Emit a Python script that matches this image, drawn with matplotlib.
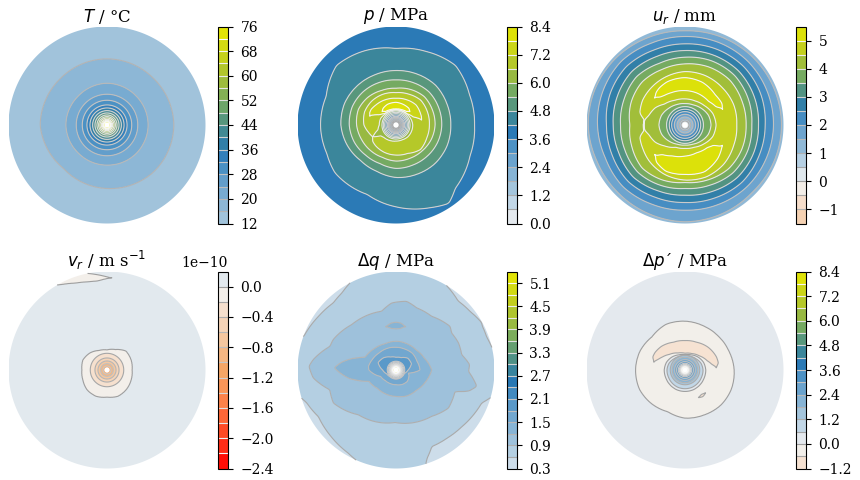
import numpy as np
import matplotlib
matplotlib.use("Agg")
import matplotlib.pyplot as plt
from matplotlib.colors import LinearSegmentedColormap, Normalize

plt.rcParams['font.family'] = 'DejaVu Serif'

R_MAX = 295.0
R_HOLE = 8.0
RAYS = [0, 22.5, 45, 67.5, 90, 112.5, 135, 157.5, 180, 202.5, 225, 247.5, 270, 292.5, 315, 337.5]
RAYS8 = [0, 45, 90, 135, 180, 225, 270, 315]

# ---- T ----
T_levels = np.arange(12, 77, 4)
T_ticks = np.arange(12, 77, 8)
T_inner_vals = [75, 72, 68, 64, 60, 56, 52, 48, 44, 40, 36, 32, 28, 24]
T_inner_r = [8.5, 9.5, 11.5, 14, 17, 21, 25, 30, 36, 43, 51, 60, 74, 92]
T_20 = [123, 123, 125, 122, 123, 120, 120, 122]
T_16 = [200, 197, 198, 197, 200, 184, 190, 198]

# ---- p ----
p_levels = np.arange(0, 8.41, 0.6)
p_ticks = np.arange(0, 8.41, 1.2)
p_inner_vals = [0.2, 0.6, 1.2, 1.8, 2.4, 3.0, 3.6, 4.2, 4.8, 5.4, 6.0]
p_inner_r = [8, 10, 13, 16, 20, 23, 26, 30, 34, 38, 42]
p_66_ang = [0, 22.5, 45, 67.5, 90, 112.5, 135, 157.5, 180, 195, 207, 215, 225, 247.5, 270, 292.5, 315, 337.5]
p_66up = [50, 48, 46, 45, 45, 45, 46, 50, 50, 56, 78, 56, 52, 50, 48, 48, 50, 50]
p_66dn = [100, 102, 105, 100, 97, 100, 102, 102, 96, 85, 78, 85, 87, 89, 90, 92, 104, 100]
p_72_ang = [12, 18, 25, 45, 67.5, 90, 112.5, 135, 148, 155, 160, 207]
p_72up = [78, 68, 57, 47, 46, 46, 46, 48, 58, 72, 83, 78]
p_72dn = [78, 80, 81, 85, 82, 80, 82, 85, 88, 87, 83, 78]
p_78_ang = [45, 52, 67.5, 90, 112.5, 128, 135]
p_78up = [58, 51, 49, 48, 49, 51, 58]
p_78dn = [58, 63, 65, 68, 67, 63, 58]
p_60dn = [117, 118, 120, 115, 110, 112, 118, 122, 118, 112, 108, 105, 108, 108, 110, 114]
p_54dn = [137, 138, 140, 137, 135, 137, 140, 142, 140, 135, 128, 125, 130, 130, 132, 135]
p_48dn = [164, 165, 168, 165, 163, 163, 165, 167, 165, 158, 150, 150, 157, 160, 164, 165]
p_42_ang = [0, 22.5, 45, 67.5, 90, 112.5, 135, 157.5, 180, 202.5, 218, 247.5, 270, 292.5, 304, 313, 337.5]
p_42dn = [235, 238, 252, 238, 229, 241, 252, 226, 226, 224, 232, 225, 245, 268, 283, 260, 240]

# ---- u_r ----
u_levels = np.arange(-1.5, 5.51, 0.5)
u_ticks = np.arange(-1, 6, 1)
u_inner_vals = [0.1, 0.5, 1.0, 1.5, 2.0, 2.5, 3.0, 3.5]
u_inner_r = [8, 12, 17, 24, 32, 40, 47, 55]
u_40up = [78, 76, 70, 65, 64, 66, 70, 76, 78, 75, 68, 62, 60, 62, 68, 75]
u_45_ang = [0, 22.5, 45, 67.5, 90, 112.5, 135, 150, 165, 173, 187, 195, 210, 225, 247.5, 270, 292.5, 315, 337.5]
u_45up = [93, 90, 82, 78, 78, 80, 88, 103, 112, 122, 122, 112, 103, 88, 72, 70, 72, 80, 90]
u_45dn = [155, 158, 158, 160, 160, 155, 150, 147, 140, 122, 122, 140, 145, 152, 160, 165, 168, 165, 158]
u_50_ang = [24, 30, 45, 67.5, 90, 112.5, 125, 132, 137, 226, 232, 247.5, 270, 292.5, 315, 325, 330]
u_50up = [122, 108, 100, 102, 103, 105, 108, 112, 122, 127, 112, 100, 93, 90, 95, 105, 128]
u_50dn = [122, 128, 128, 138, 142, 140, 135, 130, 122, 127, 140, 150, 148, 152, 140, 132, 128]
u_40dn = [183, 185, 190, 188, 183, 180, 182, 175, 165, 172, 182, 178, 172, 178, 185, 185]
u_35dn = [200, 205, 210, 208, 203, 200, 205, 198, 193, 195, 200, 195, 190, 195, 203, 203]
u_30dn = [220, 224, 228, 226, 223, 222, 226, 220, 215, 215, 220, 213, 210, 215, 222, 222]
u_25dn = [240, 245, 248, 246, 243, 243, 248, 243, 235, 236, 240, 234, 232, 236, 242, 240]
u_20dn = [265, 266, 268, 267, 265, 265, 270, 266, 262, 258, 262, 257, 255, 258, 262, 263]
u_15dn = [289, 288, 287, 285, 282, 284, 288, 290, 290, 285, 285, 287, 290, 288, 285, 288]

# ---- v_r (units of 1e-10) ----
v_levels = np.arange(-2.4, 0.21, 0.2)
v_ticks = np.arange(-2.4, 0.01, 0.4)
v_inner_vals = [-1.0, -0.8, -0.6, -0.4, -0.2]
v_inner_r = [12, 19, 27, 36, 50]
v_zero = [75, 78, 80, 66, 60, 63, 72, 78, 75, 78, 84, 85, 81, 85, 82, 78]
v_blob_ang = [0, 88, 96, 102, 110, 118, 121, 125]
v_blob_in = [305, 276, 268, 270, 277, 290, 297, 305]
v_blob_out = [305, 276, 287, 296, 305, 305, 305, 305]

# ---- delta q ----
q_levels = np.arange(0.3, 5.41, 0.3)
q_ticks = np.arange(0.3, 5.11, 0.6)
q_inner_vals = [5.2, 5.1, 4.8, 4.5, 4.2, 3.9, 3.6, 3.3, 3.0, 2.7, 2.4, 2.1]
q_inner_r = [8.5, 9, 10, 11, 12, 13.5, 15, 17, 19, 21, 23.5, 26]
q_18 = [36, 50, 50, 40, 38, 42, 52, 58, 40, 30, 27, 27, 27, 27, 27, 27]
q_15_ang = [0, 22.5, 45, 67.5, 90, 112.5, 135, 157.5, 172, 180, 202.5, 225, 247.5, 270, 292.5, 315, 337.5, 346]
q_15 = [72, 68, 70, 68, 68, 70, 72, 78, 83, 81, 50, 45, 44, 44, 47, 48, 42, 38]
q_12_ang = [0, 22.5, 45, 67.5, 90, 112.5, 135, 157.5, 172, 178, 190, 202.5, 225, 247.5, 270, 292.5, 315, 337.5]
q_12 = [107, 92, 85, 85, 86, 85, 91, 100, 165, 185, 143, 88, 78, 78, 79, 84, 86, 95]
q_blob_ang = [0, 78, 84, 90, 96, 103]
q_blob_in = [133, 133, 125, 123, 125, 133]
q_blob_out = [133, 133, 141, 143, 141, 133]
q_09_ang = [4.2, 13.1, 23.4, 33.6, 39, 56.4, 71.6, 81.2, 93.7, 103.7, 134.4, 154.2, 160.3, 172.9, 177.6, 185.5, 196.6, 207.8, 229.9, 269, 307.6, 324, 340.1, 343.6, 348.6, 358.9]
q_09 = [221, 202, 204, 200, 208, 193, 196, 208, 201, 181, 190, 209, 210, 250, 261, 249, 207, 212, 175, 157, 175, 194, 188, 226, 247, 217]
q_06_ang = [8, 12, 20, 27, 29, 38, 48, 60, 65, 110, 115, 125, 133, 145, 160, 170, 188, 200, 211, 225, 240, 250, 285, 289, 295, 307, 319, 330, 339, 345, 350]
q_06 = [320, 296, 289, 290, 293, 283, 278, 296, 320, 320, 300, 282, 275, 282, 294, 320, 320, 285, 271, 278, 287, 300, 320, 282, 253, 255, 260, 268, 275, 300, 320]

# ---- delta p' ----
d_levels = np.arange(-1.2, 8.41, 0.6)
d_ticks = np.arange(-1.2, 8.41, 1.2)
d_inner_vals = [8.1, 7.8, 7.2, 6.6, 6.0, 5.4, 4.8, 4.2, 3.6, 3.0, 2.4, 1.8, 1.2]
d_inner_r = [7, 8.5, 9.5, 10.5, 11.5, 13, 14.5, 17, 20, 25, 31, 38, 44]
d_06 = [54, 52, 47, 44, 42, 44, 47, 52, 54, 54, 55, 56, 56, 56, 55, 54]
d_00 = [62, 60, 55, 49, 46, 49, 55, 60, 62, 62, 63, 64, 64, 64, 63, 62]
d_cres_ang = [5, 12, 22.5, 45, 67.5, 90, 112.5, 135, 150, 158, 165, 296, 304, 312]
d_cres_in = [94, 82, 72, 60, 53, 50, 55, 66, 78, 86, 96, 92, 88, 92]
d_cres_out = [94, 102, 102, 97, 90, 88, 90, 100, 104, 104, 96, 92, 96, 92]
d_outer = [147, 143, 142, 143, 146, 148, 140, 146, 148, 148, 142, 135, 144, 146, 150, 150]


def build_field(knots, smooth=2.0):
    """knots: (value, radius) with radius a number, (angles, radii) or None (midway)."""
    theta = np.arange(0, 360.5, 0.5)
    r = np.linspace(R_HOLE, R_MAX, 450)
    rows, vals = [], []
    for v, spec in knots:
        vals.append(v)
        if spec is None:
            rows.append(None)
        elif np.isscalar(spec):
            rows.append(np.full(theta.size, float(spec)))
        else:
            a, rr = spec
            f = np.interp(theta[:-1], a, rr, period=360)
            w = int(smooth * 2) * 2 + 1
            kernel = np.ones(w) / w
            f = np.convolve(np.r_[f[-w:], f, f[:w]], kernel, mode='same')[w:-w]
            rows.append(np.r_[f, f[0]])
    for i, row in enumerate(rows):
        if row is None:
            rows[i] = 0.5 * (rows[i - 1] + rows[i + 1])
    kr = np.maximum.accumulate(np.array(rows), axis=0)
    vals = np.array(vals, dtype=float)
    z = np.empty((theta.size, r.size))
    for j in range(theta.size):
        z[j] = np.interp(r, kr[:, j], vals)
    t = np.radians(theta)
    rr, tt = np.meshgrid(r, t)
    return rr * np.cos(tt), rr * np.sin(tt), z


def inner(vals, radii):
    return list(zip(vals, radii))


T_knots = inner(T_inner_vals, T_inner_r) + [(20, (RAYS8, T_20)), (16, (RAYS8, T_16)), (12.8, 320)]
p_knots = inner(p_inner_vals, p_inner_r) + [
    (6.6, (p_66_ang, p_66up)), (7.2, (p_72_ang, p_72up)), (7.8, (p_78_ang, p_78up)), (8.1, None),
    (7.8, (p_78_ang, p_78dn)), (7.2, (p_72_ang, p_72dn)), (6.6, (p_66_ang, p_66dn)),
    (6.0, (RAYS, p_60dn)), (5.4, (RAYS, p_54dn)), (4.8, (RAYS, p_48dn)),
    (4.2, (p_42_ang, p_42dn)), (3.8, 330)]
u_knots = inner(u_inner_vals, u_inner_r) + [
    (4.0, (RAYS, u_40up)), (4.5, (u_45_ang, u_45up)), (5.0, (u_50_ang, u_50up)), (5.3, None),
    (5.0, (u_50_ang, u_50dn)), (4.5, (u_45_ang, u_45dn)), (4.0, (RAYS, u_40dn)), (3.5, (RAYS, u_35dn)),
    (3.0, (RAYS, u_30dn)), (2.5, (RAYS, u_25dn)), (2.0, (RAYS, u_20dn)), (1.5, (RAYS, u_15dn)),
    (1.0, 310)]
v_knots = inner(v_inner_vals, v_inner_r) + [
    (0.0, (RAYS, v_zero)), (0.1, 200), (0.0, (v_blob_ang, v_blob_in)), (-0.05, None),
    (0.0, (v_blob_ang, v_blob_out)), (0.1, 320)]
v_knots = [(a * 1e-10, b) for a, b in v_knots]
q_knots = inner(q_inner_vals, q_inner_r) + [
    (1.8, (RAYS, q_18)), (1.5, (q_15_ang, q_15)), (1.2, (q_12_ang, q_12)), (1.05, 110),
    (1.2, (q_blob_ang, q_blob_in)), (1.3, None), (1.2, (q_blob_ang, q_blob_out)),
    (0.9, (q_09_ang, q_09)), (0.6, (q_06_ang, q_06)), (0.4, 400)]
d_knots = inner(d_inner_vals, d_inner_r) + [
    (0.6, (RAYS, d_06)), (0.0, (RAYS, d_00)), (-0.6, (d_cres_ang, d_cres_in)), (-0.9, None),
    (-0.6, (d_cres_ang, d_cres_out)), (0.0, (RAYS, d_outer)), (0.3, 320)]

cstops = [(-1, '#ff0000'), (-0.75, '#ff5a2e'), (-0.6, '#fb8a50'), (-0.45, '#f5a868'),
          (-0.25, '#f5cfae'), (-0.1, '#f6e3d4'), (-0.04, '#f3efea'), (0.04, '#e3e9ee'),
          (0.1, '#c5d9e8'), (0.18, '#a3c4dc'), (0.3, '#75a9d0'), (0.4, '#4a90c4'),
          (0.47, '#2878b5'), (0.535, '#3a859c'), (0.6, '#55957f'), (0.68, '#75aa62'),
          (0.75, '#98b942'), (0.85, '#bfcd20'), (0.93, '#d5dc10'), (1, '#e8e800')]
cmap = LinearSegmentedColormap.from_list('dv', [((a + 1) / 2, c) for a, c in cstops], N=512)

W, H = 860, 480
fig = plt.figure(figsize=(W / 100, H / 100), dpi=100)

panels = [
    (107, 125, 218, r'$T$ / °C', T_levels, T_ticks, T_knots, 2),
    (396, 125, 507, r'$p$ / MPa', p_levels, p_ticks, p_knots, 1.5),
    (685, 125, 796, r'$u_r$ / mm', u_levels, u_ticks, u_knots, 2),
    (107, 370, 218, r'$v_r$ / m s$^{-1}$', v_levels * 1e-10, v_ticks * 1e-10, v_knots, 1.5),
    (396, 370, 507, r'$\Delta q$ / MPa', q_levels, q_ticks, q_knots, 1),
    (685, 370, 796, r'$\Delta p$´ / MPa', d_levels, d_ticks, d_knots, 1.5),
]

R_PX = 98.5
for cx, cy, bx, title, levels, ticks, knots, sm in panels:
    ax = fig.add_axes([(cx - R_PX) / W, 1 - (cy + R_PX) / H, 2 * R_PX / W, 2 * R_PX / H])
    X, Y, Z = build_field(knots, smooth=sm)
    vmax = np.abs(levels).max()
    norm = Normalize(-vmax, vmax)
    cf = ax.contourf(X, Y, Z, levels=levels, cmap=cmap, norm=norm, antialiased=True)
    line_levels = levels[1:-1]
    greys = [str(0.62 + 0.38 * min(abs(l) / vmax, 1)) for l in line_levels]
    cs = ax.contour(X, Y, Z, levels=line_levels, colors=greys, linewidths=0.8)
    ax.set_xlim(-R_MAX, R_MAX)
    ax.set_ylim(-R_MAX, R_MAX)
    ax.set_aspect('equal')
    ax.axis('off')
    ax.set_title(title, fontsize=12, pad=3)
    cax = fig.add_axes([bx / W, 1 - (cy + R_PX) / H, 10 / W, 2 * R_PX / H])
    cb = fig.colorbar(cf, cax=cax, ticks=ticks)
    cb.add_lines(cs)
    cb.ax.tick_params(labelsize=10, length=3.5, width=0.8, pad=5.5)
    cb.outline.set_linewidth(0.8)
    cb.ax.minorticks_off()

fig.savefig('out.png', dpi=100)
